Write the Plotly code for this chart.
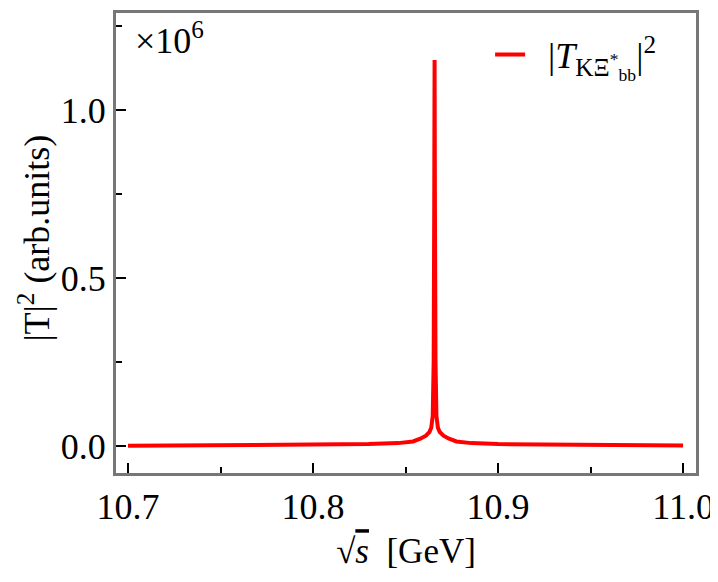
import plotly.graph_objects as go

# sqrt(s) in GeV and |T|^2 in units of 1e6
sqrt_s = [10.700, 10.750, 10.800, 10.830, 10.846, 10.854, 10.858, 10.861,
          10.8629, 10.8639, 10.8647, 10.8652, 10.8655, 10.8657, 10.8659,
          10.8662, 10.8667, 10.8675, 10.8685, 10.8705, 10.8735, 10.8775,
          10.8855, 10.900, 10.950, 11.000]
t2 = [0.001, 0.002, 0.003, 0.006, 0.009, 0.014, 0.022, 0.031,
      0.042, 0.055, 0.09, 0.25, 0.70, 1.15, 0.70,
      0.25, 0.09, 0.055, 0.042, 0.031, 0.022, 0.014,
      0.009, 0.006, 0.003, 0.002]

x_ticks = [10.7, 10.8, 10.9, 11.0]
x_ticklabels = ["10.7", "10.8", "10.9", "11.0"]
y_ticks = [0.0, 0.5, 1.0]
y_ticklabels = ["0.0", "0.5", "1.0"]

font = "Liberation Serif, Times New Roman, serif"
frame = "#777777"

fig = go.Figure()
fig.add_trace(go.Scatter(
    x=sqrt_s, y=t2, mode="lines",
    line=dict(color="#ff0000", width=4),
    name="\u00a0\u00a0|<i>T</i><sub>KΞ<sup>*</sup><sub>bb</sub></sub>|<sup>2</sup>",
))

# page body adds an 8px offset, so the figure is 8px smaller than the window
fig.update_layout(
    width=710, height=574,
    margin=dict(l=108, r=22, t=2, b=109),
    paper_bgcolor="white", plot_bgcolor="white",
    font=dict(family=font, size=36, color="black"),
    showlegend=True,
    legend=dict(x=0.645, y=0.975, xanchor="left", yanchor="top",
                bgcolor="rgba(0,0,0,0)", font=dict(size=36),
                itemwidth=30),
)

fig.update_xaxes(
    range=[10.6935, 11.007],
    tickvals=x_ticks, ticktext=x_ticklabels,
    ticks="inside", ticklen=10, tickwidth=2, tickcolor="black",
    minor=dict(dtick=0.05, ticks="inside", ticklen=6, tickwidth=2, tickcolor="black"),
    showline=True, linecolor=frame, linewidth=3, mirror=True,
    showgrid=False, zeroline=False,
    title=dict(text="√<span style='text-decoration:overline'><i>s</i></span>  [GeV]",
               font=dict(size=35), standoff=13),
)
fig.update_yaxes(
    range=[-0.080, 1.290],
    tickvals=y_ticks, ticktext=y_ticklabels,
    ticks="inside", ticklen=10, tickwidth=2, tickcolor="black",
    minor=dict(dtick=0.25, ticks="inside", ticklen=6, tickwidth=2, tickcolor="black"),
    showline=True, linecolor=frame, linewidth=3, mirror=True,
    showgrid=False, zeroline=False,
)

# y title as an annotation so it can sit where the reference has it
fig.add_annotation(
    text="|T|<sup>2</sup> (arb.units)", xref="paper", yref="paper",
    x=-0.141, y=0.51, xanchor="center", yanchor="middle", textangle=-90,
    showarrow=False, font=dict(size=36),
)

fig.add_annotation(
    text="×10<sup>6</sup>", xref="paper", yref="paper",
    x=0.029, y=0.997, xanchor="left", yanchor="top",
    showarrow=False, font=dict(size=36),
)

fig.write_html("out.html")
